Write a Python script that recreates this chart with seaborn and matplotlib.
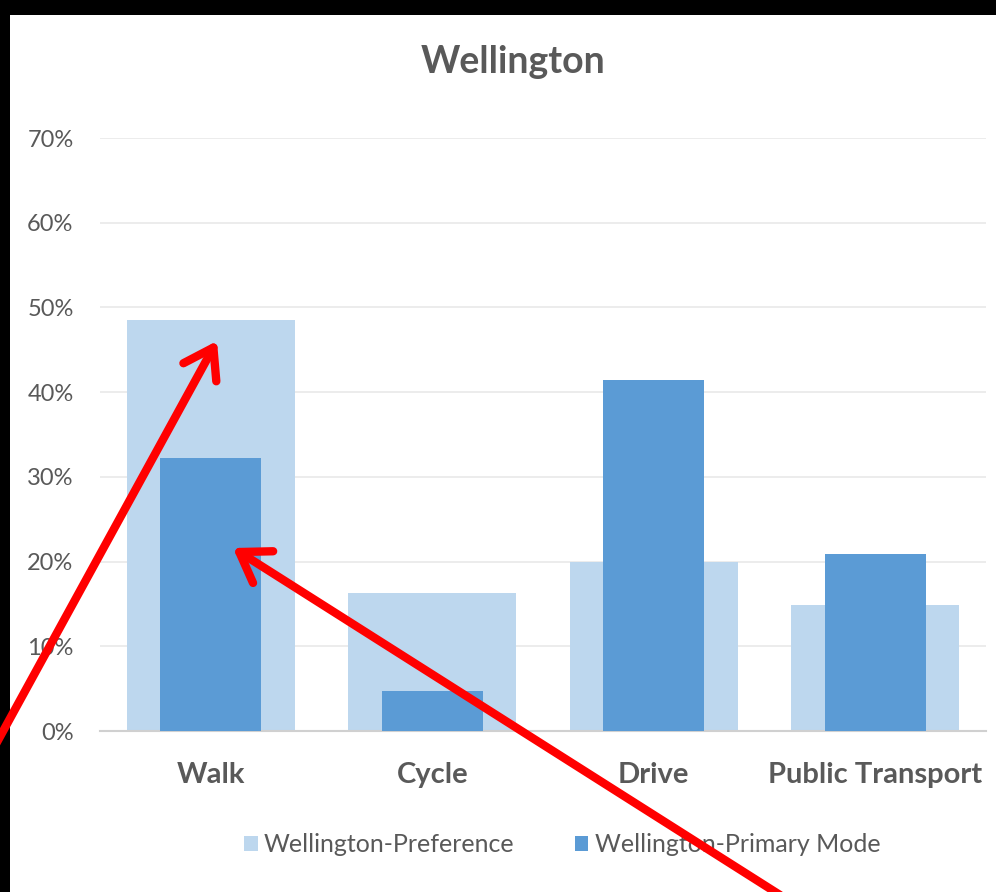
import matplotlib
matplotlib.use("Agg")
import matplotlib.pyplot as plt
import seaborn as sns
from matplotlib.patches import Rectangle
from matplotlib.ticker import PercentFormatter

# Travel mode shares for Wellington
modes = ["Walk", "Cycle", "Drive", "Public Transport"]
preference = [0.485, 0.163, 0.200, 0.149]
primary_mode = [0.322, 0.047, 0.414, 0.209]
series_names = ["Wellington-Preference", "Wellington-Primary Mode"]
y_ticks = [0, 0.1, 0.2, 0.3, 0.4, 0.5, 0.6, 0.7]

LIGHT = "#BDD7EE"
DARK = "#5B9BD5"
TEXT = "#595959"

sns.set_theme(style="white")
plt.rcParams["font.family"] = ["Lato", "DejaVu Sans"]

W, H = 996, 892
fig = plt.figure(figsize=(W / 100, H / 100), dpi=100, facecolor="black")

# white canvas inside the dark frame
fig.add_artist(Rectangle((10 / W, 0), 1, 1 - 15 / H, transform=fig.transFigure,
                         facecolor="white", edgecolor="none", zorder=0))

ax = fig.add_axes([100 / W, 1 - 731 / H, 886 / W, 593 / H])
ax.set_facecolor("none")

sns.barplot(x=modes, y=preference, color=LIGHT, width=0.76, saturation=1,
            linewidth=0, label=series_names[0], ax=ax, zorder=2)
sns.barplot(x=modes, y=primary_mode, color=DARK, width=0.457, saturation=1,
            linewidth=0, label=series_names[1], ax=ax, zorder=3)

ax.set_xlim(-0.5, 3.5)
ax.set_ylim(0, 0.7)
ax.set_yticks(y_ticks)
ax.yaxis.set_major_formatter(PercentFormatter(1.0, decimals=0))
ax.grid(axis="y", color="#EAEAEA", linewidth=1.3, zorder=0)
ax.set_axisbelow(True)
for side in ["top", "right", "left"]:
    ax.spines[side].set_visible(False)
ax.spines["bottom"].set_color("#D0D0D0")
ax.spines["bottom"].set_linewidth(1.5)
ax.tick_params(axis="y", length=0, pad=19, labelsize=17, labelcolor=TEXT)
ax.tick_params(axis="x", length=0, pad=22, labelsize=21, labelcolor=TEXT)
for lbl in ax.get_xticklabels():
    lbl.set_fontweight("bold")
ax.set_xlabel("")
ax.set_ylabel("")

fig.text(513 / W, 1 - 62 / H, "Wellington", ha="center", va="center",
         fontsize=27, fontweight="bold", color=TEXT)

leg = ax.legend(loc="center", bbox_to_anchor=(562 / W, 1 - 845 / H),
                bbox_transform=fig.transFigure, ncol=2, frameon=False,
                fontsize=18, labelcolor=TEXT, handlelength=0.55, handleheight=0.55,
                handletextpad=0.25, columnspacing=2.4)

# red pointer arrows
arrow_kw = dict(arrowstyle="->,head_length=0.45,head_width=0.3", color="red",
                lw=6, mutation_scale=45, capstyle="round", joinstyle="round",
                shrinkA=0, shrinkB=0)
ax.annotate("", xy=(217 / W, 1 - 341 / H), xytext=(-10 / W, 1 - 755 / H),
            xycoords="figure fraction", textcoords="figure fraction",
            arrowprops=arrow_kw, annotation_clip=False, zorder=10)
ax.annotate("", xy=(233 / W, 1 - 548 / H), xytext=(780 / W, 1 - 895 / H),
            xycoords="figure fraction", textcoords="figure fraction",
            arrowprops=arrow_kw, annotation_clip=False, zorder=10)

fig.savefig("out.png", dpi=100, facecolor=fig.get_facecolor())
